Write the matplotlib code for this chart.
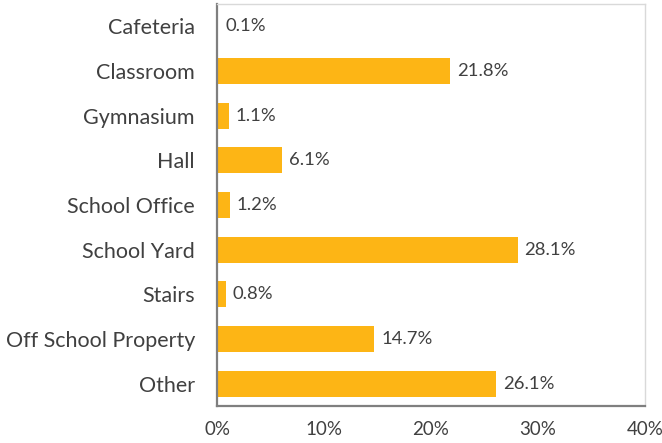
import matplotlib.pyplot as plt

# data
places = ['Cafeteria', 'Classroom', 'Gymnasium', 'Hall', 'School Office',
          'School Yard', 'Stairs', 'Off School Property', 'Other']
pct = [0.1, 21.8, 1.1, 6.1, 1.2, 28.1, 0.8, 14.7, 26.1]
xticks = [0, 10, 20, 30, 40]

plt.rcParams['font.family'] = ['Lato', 'DejaVu Sans']
txt = '#404040'

fig = plt.figure(figsize=(6.62, 4.43), dpi=100)
ax = fig.add_axes([0.328, 0.0835, 0.646, 0.9075])

y = list(range(len(places)))
ax.barh(y, pct, height=0.58, color='#FDB515')
ax.set_ylim(len(places) - 0.5, -0.5)
ax.set_xlim(0, 40)

# 값 라벨
for yi, v in zip(y, pct):
    ax.annotate(f'{v:.1f}%', (v, yi), xytext=(5, 0), textcoords='offset points',
                va='center', ha='left', fontsize=13.3, color=txt)

ax.set_yticks(y)
ax.set_yticklabels(places, fontsize=15.5, color=txt)
ax.set_xticks(xticks)
ax.set_xticklabels([f'{t}%' for t in xticks], fontsize=13.5, color=txt)
ax.tick_params(length=0)
ax.tick_params(axis='y', pad=16)
ax.tick_params(axis='x', pad=11)

for s in ['left', 'bottom']:
    ax.spines[s].set_color('#7f7f7f')
    ax.spines[s].set_linewidth(1.6)
for s in ['top', 'right']:
    ax.spines[s].set_color('#d9d9d9')
    ax.spines[s].set_linewidth(1)

fig.savefig('out.png', dpi=100)
